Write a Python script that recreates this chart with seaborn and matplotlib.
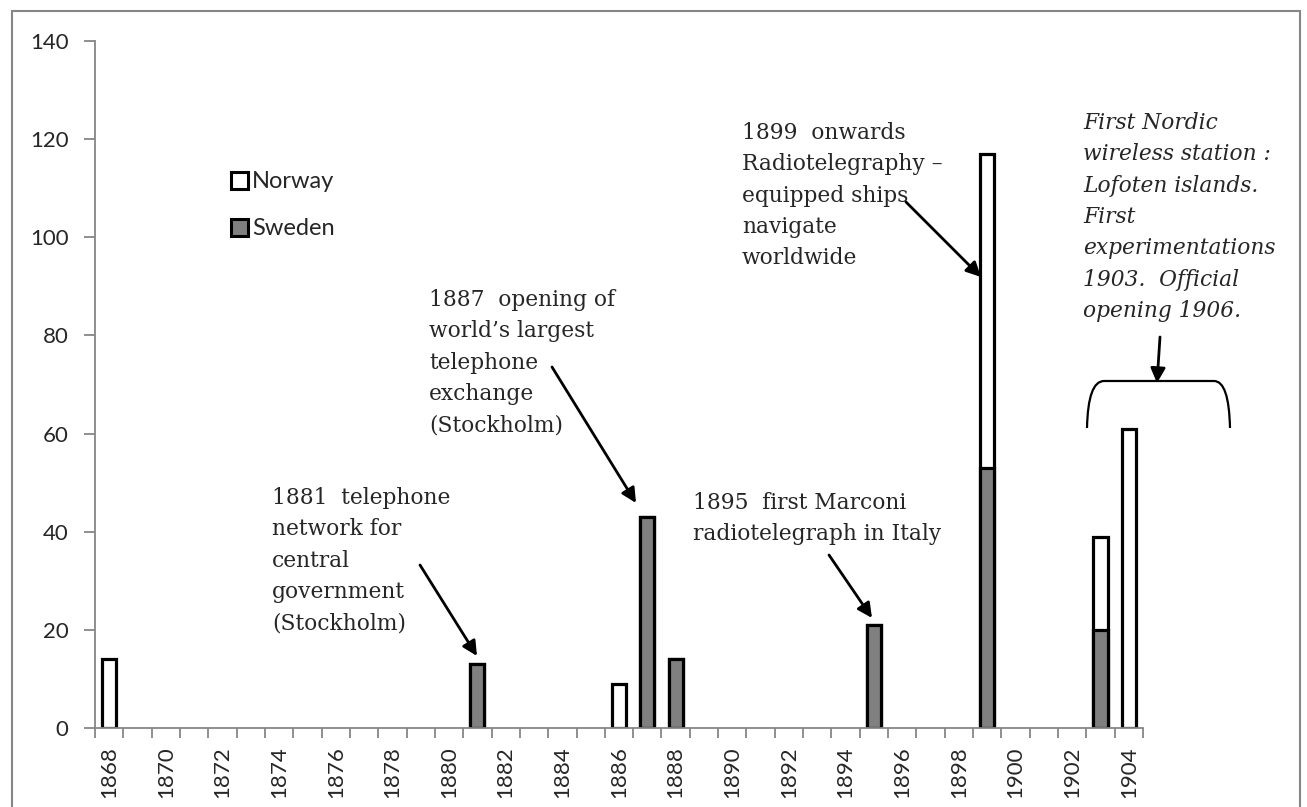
import numpy as np
import pandas as pd
import matplotlib
matplotlib.use("Agg")
import matplotlib.pyplot as plt
import seaborn as sns
from matplotlib.patches import Patch, PathPatch, Rectangle
from matplotlib.path import Path

# ---------------- data ----------------
all_years = list(range(1868, 1905))
event_years = [1868, 1881, 1886, 1887, 1888, 1895, 1899, 1903, 1904]
sweden = [0, 13, 0, 43, 14, 21, 53, 20, 0]
norway = [14, 0, 9, 0, 0, 0, 64, 19, 61]
series_names = ["Norway", "Sweden"]
y_ticks = [0, 20, 40, 60, 80, 100, 120, 140]

df = pd.DataFrame({"year": [str(y) for y in event_years],
                   "Sweden": sweden, "Norway": norway})
df["total"] = df["Sweden"] + df["Norway"]
order = [str(y) for y in all_years]

# ---------------- style ----------------
sns.set_style("white")
plt.rcParams["font.family"] = ["Lato", "DejaVu Sans"]
AX_GRAY = "#868686"
SWE_COLOR = "#808080"
NOR_COLOR = "#ffffff"

fig = plt.figure(figsize=(13.07, 8.07), dpi=100)
ax = fig.add_axes([95 / 1307, 1 - 728 / 807, (1143 - 95) / 1307, (728 - 41) / 807])

# stacked bars: total (Norway on top) drawn first, Sweden over its lower part
sns.barplot(data=df[df["total"] > 0], x="year", y="total", order=order,
            color=NOR_COLOR, saturation=1, edgecolor="black", linewidth=2.3,
            width=0.5, errorbar=None, ax=ax)
sns.barplot(data=df[df["Sweden"] > 0], x="year", y="Sweden", order=order,
            color=SWE_COLOR, saturation=1, edgecolor="black", linewidth=2.3,
            width=0.5, errorbar=None, ax=ax)

ax.set_xlim(-0.5, len(all_years) - 0.5)
ax.set_ylim(0, 140)
ax.set_xlabel("")
ax.set_ylabel("")

# x ticks: labels every 2 years, tick marks at category boundaries
ax.set_xticks(range(0, len(all_years), 2))
ax.set_xticklabels([str(y) for y in all_years[::2]], rotation=90, fontsize=16)
ax.set_xticks(np.arange(-0.5, len(all_years), 1), minor=True)
ax.tick_params(axis="x", which="major", length=0, pad=13)
ax.tick_params(axis="x", which="minor", length=7, width=1.3, color=AX_GRAY,
               direction="out", bottom=True)
ax.set_yticks(y_ticks)
ax.set_yticklabels([str(v) for v in y_ticks], fontsize=16)
ax.tick_params(axis="y", length=8, width=1.3, color=AX_GRAY, direction="out",
               pad=11, left=True)

for s in ["top", "right"]:
    ax.spines[s].set_visible(False)
for s in ["left", "bottom"]:
    ax.spines[s].set_color(AX_GRAY)
    ax.spines[s].set_linewidth(1.3)

# legend
handles = [Patch(facecolor=NOR_COLOR, edgecolor="black", linewidth=2.2),
           Patch(facecolor=SWE_COLOR, edgecolor="black", linewidth=2.2)]
fig.legend(handles, series_names, loc="upper left",
           bbox_to_anchor=(222 / 1307, 1 - 162 / 807), frameon=False,
           fontsize=17, handlelength=0.72, handleheight=0.72,
           handletextpad=0.15, labelspacing=1.1, borderaxespad=0)

# annotations
SERIF = ["DejaVu Serif"]
tsize = 15.7
lsp = 1.55
arrow = dict(arrowstyle="-|>", color="black", lw=2, mutation_scale=22,
             shrinkA=0, shrinkB=0)

def to_data(px, py):
    xd = (px - 95) / ((1143 - 95) / len(all_years)) - 0.5
    yd = (728 - py) / ((728 - 41) / 140)
    return xd, yd

txt = dict(family=SERIF, fontsize=tsize, linespacing=lsp, va="top", ha="left",
           clip_on=False)

ax.text(*to_data(272, 487), "1881  telephone\nnetwork for\ncentral\ngovernment\n(Stockholm)", **txt)
ax.annotate("", xy=to_data(477, 656), xytext=to_data(420, 565), arrowprops=arrow)

ax.text(*to_data(429, 289), "1887  opening of\nworld\u2019s largest\ntelephone\nexchange\n(Stockholm)", **txt)
ax.annotate("", xy=to_data(636, 503), xytext=to_data(552, 367), arrowprops=arrow)

ax.text(*to_data(693, 492), "1895  first Marconi\nradiotelegraph in Italy", **txt)
ax.annotate("", xy=to_data(872, 618), xytext=to_data(829, 555), arrowprops=arrow)

ax.text(*to_data(742, 122), "1899  onwards\nRadiotelegraphy \u2013\nequipped ships\nnavigate\nworldwide", **txt)
ax.annotate("", xy=to_data(981, 277), xytext=to_data(906, 202), arrowprops=arrow)

ax.text(*to_data(1083, 112),
        "First Nordic\nwireless station :\nLofoten islands.\nFirst\nexperimentations\n1903.  Official\nopening 1906.",
        style="italic", **txt)
ax.annotate("", xy=to_data(1157, 383), xytext=to_data(1160, 337), arrowprops=arrow,
            annotation_clip=False)

# bracket over 1903-1904
p0 = to_data(1087, 428); c0 = to_data(1088, 381); p1 = to_data(1104, 381)
p2 = to_data(1214, 381); c1 = to_data(1229, 381); p3 = to_data(1230, 428)
bracket = Path([p0, c0, p1, p2, c1, p3],
               [Path.MOVETO, Path.CURVE3, Path.CURVE3, Path.LINETO, Path.CURVE3, Path.CURVE3])
ax.add_patch(PathPatch(bracket, facecolor="none", edgecolor="black", lw=1.6,
                       clip_on=False))

# outer chart border
fig.patches.append(Rectangle((12 / 1307, -0.1), (1300 - 12) / 1307, 1.1 - 11 / 807,
                             transform=fig.transFigure, fill=False,
                             edgecolor=AX_GRAY, linewidth=1.5))

fig.savefig("out.png", dpi=100)
